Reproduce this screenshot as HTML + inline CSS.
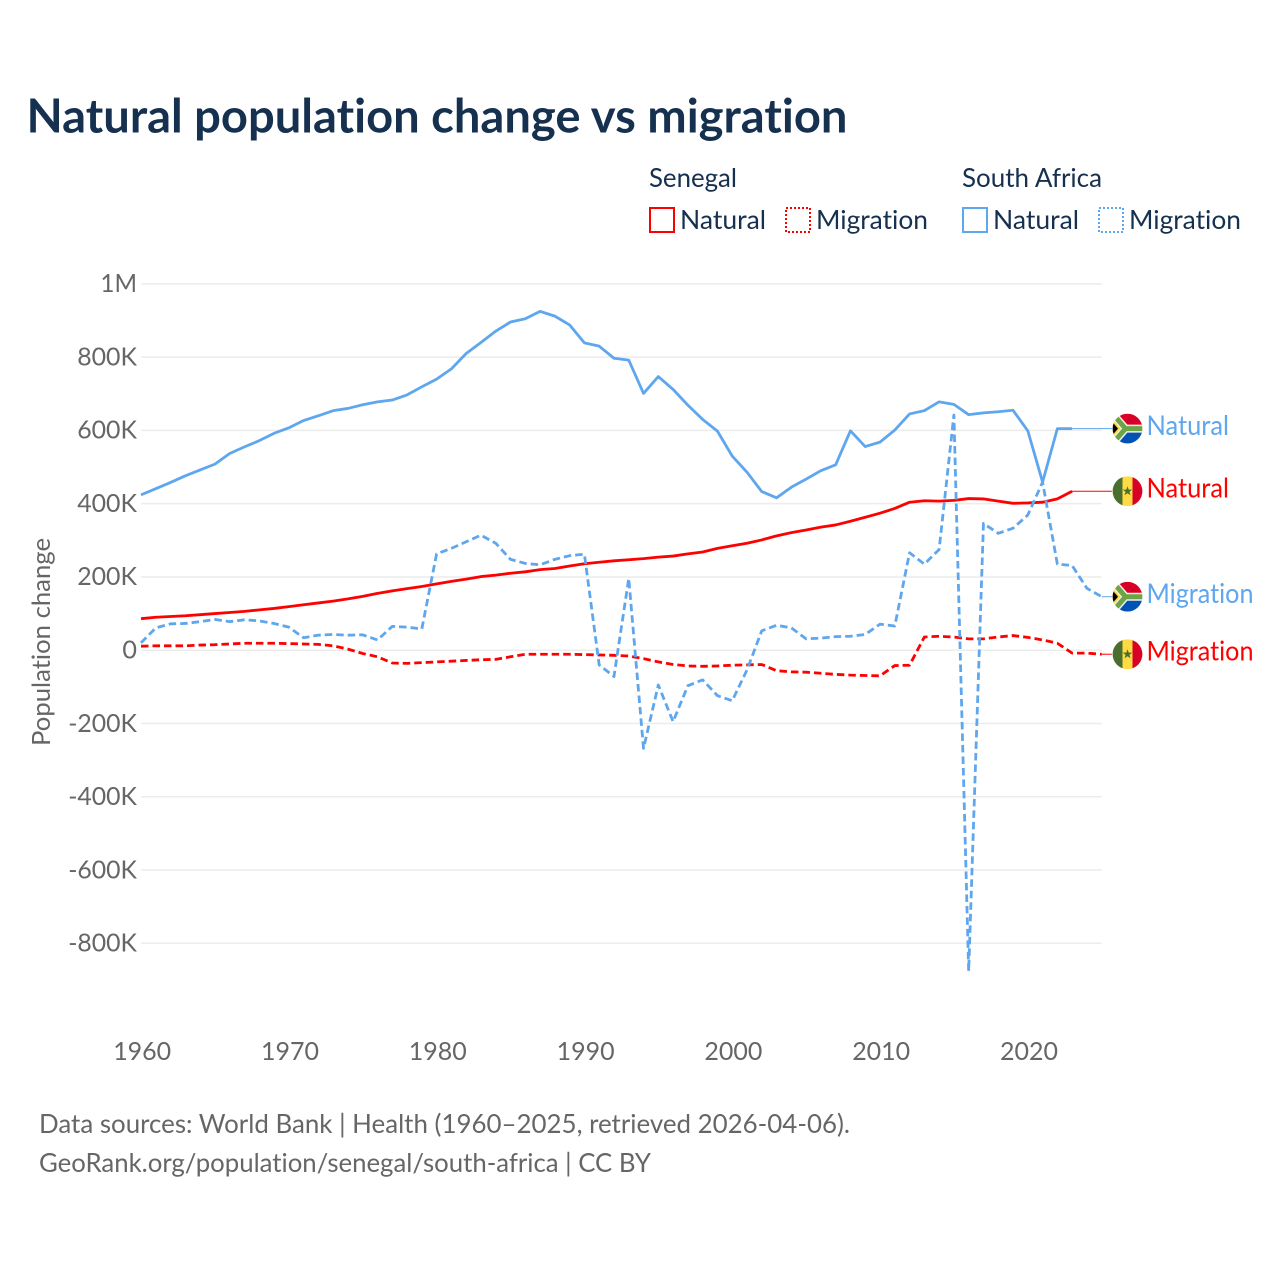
<!DOCTYPE html>
<html lang="en">
<head>
<meta charset="utf-8">
<title>Natural population change vs migration</title>
<style>
html,body{margin:0;padding:0;background:#fff;width:1280px;height:1280px;overflow:hidden}
svg{display:block}
text{font-family:"Lato","Carlito","Liberation Sans",sans-serif;font-variant-ligatures:none;font-feature-settings:"liga" 0,"clig" 0}
.dark{fill:#16304f}
.grey{fill:#666}
</style>
</head>
<body>
<svg id="chart" xmlns="http://www.w3.org/2000/svg" width="1280" height="1280" viewBox="0 0 1280 1280">
  <defs>
    <clipPath id="flag-clip"><circle cx="0" cy="0" r="15"/></clipPath>
  </defs>
  <rect x="0" y="0" width="1280" height="1280" fill="#fff"/>
  <text x="26.5" y="132.5" font-size="47" font-weight="700" class="dark" textLength="821" lengthAdjust="spacingAndGlyphs">Natural population change vs migration</text>

  <g>
    <text x="649" y="187" font-size="26.5" class="dark" textLength="88" lengthAdjust="spacingAndGlyphs">Senegal</text>
    <text x="962" y="187" font-size="26.5" class="dark" textLength="140" lengthAdjust="spacingAndGlyphs">South Africa</text>
    <rect x="650" y="208" width="24" height="24" fill="none" stroke="#ff0000" stroke-width="2"/>
    <text x="680" y="229" font-size="26.5" class="dark" textLength="86" lengthAdjust="spacingAndGlyphs">Natural</text>
    <rect x="786" y="208" width="24" height="24" fill="none" stroke="#ff0000" stroke-width="2" stroke-dasharray="2 2"/>
    <text x="816" y="229" font-size="26.5" class="dark" textLength="112" lengthAdjust="spacingAndGlyphs">Migration</text>
    <rect x="963" y="208" width="24" height="24" fill="none" stroke="#5ea6ee" stroke-width="2"/>
    <text x="993" y="229" font-size="26.5" class="dark" textLength="86" lengthAdjust="spacingAndGlyphs">Natural</text>
    <rect x="1099" y="208" width="24" height="24" fill="none" stroke="#5ea6ee" stroke-width="2" stroke-dasharray="2 2"/>
    <text x="1129" y="229" font-size="26.5" class="dark" textLength="112" lengthAdjust="spacingAndGlyphs">Migration</text>
  </g>

  <text transform="translate(50 642) rotate(-90)" text-anchor="middle" font-size="25.5" class="grey" textLength="208" lengthAdjust="spacingAndGlyphs">Population change</text>

  <g id="grid"></g>
  <g id="yaxis"></g>
  <g id="xaxis"></g>
  <g id="series"></g>
  <g id="endlabels"></g>

  <text x="39" y="1133" font-size="26" class="grey" textLength="811" lengthAdjust="spacingAndGlyphs">Data sources: World Bank | Health (1960–2025, retrieved 2026-04-06).</text>
  <text x="39" y="1172" font-size="26" class="grey" textLength="612" lengthAdjust="spacingAndGlyphs">GeoRank.org/population/senegal/south-africa | CC BY</text>
</svg>

<script>
// Values in thousands of people, starting at firstYear.
const firstYear = 1960;
const yTickValues = [1000, 800, 600, 400, 200, 0, -200, -400, -600, -800];
const yTickLabels = ["1M", "800K", "600K", "400K", "200K", "0", "-200K", "-400K", "-600K", "-800K"];
const xTickYears = [1960, 1970, 1980, 1990, 2000, 2010, 2020];

const southAfricaNatural = [424,441,458,476,492,508,537,555,572,592,607,627,640,654,660,670,678,683,697,719,740,768,810,840,871,896,905,925,912,888,839,830,797,792,701,747,712,669,630,598,530,486,433,416,445,467,490,506,599,556,568,601,645,654,678,671,643,648,651,655,599,459,605,605];
const southAfricaMigration = [20,61,72,73,78,84,78,83,80,73,63,34,41,43,41,42,28,65,63,58,263,278,296,314,292,248,237,233,248,258,262,-40,-72,196,-268,-95,-195,-97,-81,-124,-138,-54,53,68,61,31,33,37,38,43,71,66,266,235,275,642,-876,346,319,333,369,459,235,231,169,146];
const senegalNatural = [86,90,92,94,97,100,103,106,110,114,119,124,129,134,140,147,155,162,168,174,181,188,194,201,205,210,214,220,223,230,236,240,244,247,250,254,257,263,268,278,285,292,301,312,321,328,336,342,352,363,374,387,404,408,407,409,414,413,407,401,402,404,413,434];
const senegalMigration = [11,12,12,12,14,15,17,19,19,19,18,17,16,12,3,-9,-18,-35,-36,-34,-32,-30,-28,-26,-25,-18,-11,-11,-11,-11,-12,-13,-14,-16,-23,-32,-39,-43,-44,-43,-41,-40,-39,-56,-59,-60,-63,-66,-68,-69,-70,-42,-41,36,38,36,31,31,36,40,35,28,19,-8,-8,-11];

const seriesNames = ["south-africa-natural", "south-africa-migration", "senegal-natural", "senegal-migration"];
const seriesLabels = ["Natural", "Migration", "Natural", "Migration"];

const NS = "http://www.w3.org/2000/svg";
const BLUE = "#5ea6ee";
const RED = "#ff0000";

function xScale(year) { return 141 + (year - firstYear) * 14.78; }
function yScale(v) { return 650.2 - v * 0.3663; }

function make(tag, attrs, parent) {
  const el = document.createElementNS(NS, tag);
  for (const k in attrs) el.setAttribute(k, attrs[k]);
  parent.appendChild(el);
  return el;
}
function labelWidth(s) {
  let w = 0;
  for (const c of s) w += c === "M" ? 22 : c === "K" ? 16 : c === "-" ? 9 : 14.6;
  return w;
}

const grid = document.getElementById("grid");
const yaxis = document.getElementById("yaxis");
const xaxis = document.getElementById("xaxis");
const seriesG = document.getElementById("series");
const endG = document.getElementById("endlabels");

yTickValues.forEach(function (v, i) {
  const line = make("line", { x1: 141, x2: xScale(2025), y1: yScale(v), y2: yScale(v), stroke: "#ececec", "stroke-width": 1.5 }, grid);
  
  
  const t = make("text", { x: 137, y: yScale(v) + 8.3, "text-anchor": "end", "font-size": 25.5, class: "grey", textLength: labelWidth(yTickLabels[i]), lengthAdjust: "spacingAndGlyphs" }, yaxis);
  
  
  t.textContent = yTickLabels[i];
});

xTickYears.forEach(function (year) {
  const t = make("text", { x: xScale(year) + 1.2, y: 1060, "text-anchor": "middle", "font-size": 25.5, class: "grey", textLength: 58, lengthAdjust: "spacingAndGlyphs" }, xaxis);
  
  
  t.textContent = String(year);
});

function drawSeries(values, color, dashed, name) {
  const pts = values.map(function (v, i) { return xScale(firstYear + i).toFixed(2) + "," + yScale(v).toFixed(2); }).join(" ");
  const line = make("polyline", { points: pts, fill: "none", stroke: color, "stroke-width": 2.8, "stroke-linejoin": "round" }, seriesG);
  if (dashed) line.setAttribute("stroke-dasharray", "7.5 4");
  
  
  const last = values[values.length - 1];
  const leader = make("line", { x1: xScale(firstYear + values.length - 1), x2: 1112, y1: yScale(last), y2: yScale(last), stroke: color, "stroke-width": 1 }, seriesG);
  
  
  return last;
}

function drawSAFlag(g) {
  const c = make("g", { "clip-path": "url(#flag-clip)" }, g);
  make("rect", { x: -15, y: -15, width: 30, height: 15, fill: "#d80027" }, c);
  make("rect", { x: -15, y: 0, width: 30, height: 15, fill: "#0052b4" }, c);
  make("path", { d: "M-15 -15L-2 0L15 0M-15 15L-2 0", fill: "none", stroke: "#f0f0f0", "stroke-width": 8 }, c);
  make("path", { d: "M-15 -15L-2 0L15 0M-15 15L-2 0", fill: "none", stroke: "#6da544", "stroke-width": 5 }, c);
  make("path", { d: "M-15 -9L-7 0L-15 9Z", fill: "#ffda44" }, c);
  make("path", { d: "M-15 -6.5L-9.5 0L-15 6.5Z", fill: "#000" }, c);
  make("circle", { cx: 0, cy: 0, r: 15.3, fill: "none", stroke: "#fff", "stroke-opacity": 0.6, "stroke-width": 1 }, g);
}
function drawSNFlag(g) {
  const c = make("g", { "clip-path": "url(#flag-clip)" }, g);
  make("rect", { x: -15, y: -15, width: 30, height: 30, fill: "#ffda44" }, c);
  make("rect", { x: -15, y: -15, width: 10, height: 30, fill: "#496e2d" }, c);
  make("rect", { x: 5, y: -15, width: 10, height: 30, fill: "#d80027" }, c);
  make("path", { d: "M0 -5L1.2 -1.6L4.8 -1.6L1.9 0.6L3 4L0 2L-3 4L-1.9 0.6L-4.8 -1.6L-1.2 -1.6Z", fill: "#496e2d" }, c);
  make("circle", { cx: 0, cy: 0, r: 15.3, fill: "none", stroke: "#fff", "stroke-opacity": 0.6, "stroke-width": 1 }, g);
}

function drawEnd(lastValue, color, label, isSA, name) {
  const cy = yScale(lastValue);
  const g = make("g", { transform: "translate(1127.5 " + cy.toFixed(2) + ")" }, endG);
  
  
  if (isSA) drawSAFlag(g); else drawSNFlag(g);
  const t = make("text", { x: 1146.5, y: cy + 6.5, "font-size": 27, fill: color, textLength: label === "Natural" ? 82.5 : 107, lengthAdjust: "spacingAndGlyphs" }, endG);
  
  
  t.textContent = label;
}

const lastSN = drawSeries(senegalNatural, RED, false, seriesNames[2]);
const lastSM = drawSeries(senegalMigration, RED, true, seriesNames[3]);
const lastAM = drawSeries(southAfricaMigration, BLUE, true, seriesNames[1]);
const lastAN = drawSeries(southAfricaNatural, BLUE, false, seriesNames[0]);

drawEnd(lastAN, BLUE, seriesLabels[0], true, seriesNames[0]);
drawEnd(lastSN, RED, seriesLabels[2], false, seriesNames[2]);
drawEnd(lastAM, BLUE, seriesLabels[1], true, seriesNames[1]);
drawEnd(lastSM, RED, seriesLabels[3], false, seriesNames[3]);
</script>
</body>
</html>
